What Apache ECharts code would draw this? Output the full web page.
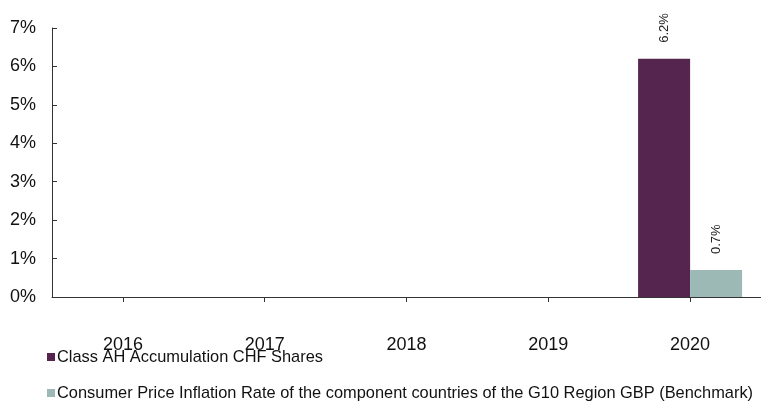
<!DOCTYPE html>
<html><head><meta charset="utf-8">
<script src="https://cdn.jsdelivr.net/npm/echarts@6/dist/echarts.min.js"></script>
<style>html,body{margin:0;padding:0;background:#fff}#c{width:761px;height:402px}</style>
</head><body><div id="c"></div>
<script>
const categories = ['2016','2017','2018','2019','2020'];
const seriesNames = ['Class AH Accumulation CHF Shares','Consumer Price Inflation Rate of the component countries of the G10 Region GBP (Benchmark)'];
const fundValues = [null, null, null, null, 6.2];
const benchmarkValues = [null, null, null, null, 0.7];
const yTicks = [0,1,2,3,4,5,6,7];

const font = "'Liberation Sans', Arial, sans-serif";
const chart = echarts.init(document.getElementById('c'));
const labelOpt = {
  show: true, position: 'top', rotate: 90, align: 'left', verticalAlign: 'middle',
  distance: 16, fontFamily: font, fontSize: 13, color: '#222',
  formatter: p => p.value.toFixed(1) + '%'
};
const legendText = {fontFamily: font, fontSize: 16.4, color: '#111', padding: [0,0,0,-3]};
chart.setOption({
  animation: false,
  textStyle: {fontFamily: font},
  grid: {left: 52, width: 711, top: 28, bottom: 105, containLabel: false},
  legend: [
    {orient: 'horizontal', left: 47, top: 349, padding: 0, itemWidth: 8, itemHeight: 8,
     icon: 'rect', textStyle: legendText, data: [seriesNames[0]]},
    {orient: 'horizontal', left: 47, top: 385, padding: 0, itemWidth: 8, itemHeight: 8,
     icon: 'rect', textStyle: legendText, data: [seriesNames[1]]}
  ],
  xAxis: {
    type: 'category', data: categories, boundaryGap: true,
    axisLine: {show: true, lineStyle: {color: '#333', width: 1}},
    axisTick: {show: true, alignWithLabel: true, length: 5, lineStyle: {color: '#333'}},
    axisLabel: {fontFamily: font, fontSize: 18, color: '#111', margin: 39}
  },
  yAxis: {
    type: 'value', min: yTicks[0], max: yTicks[yTicks.length-1], interval: 1,
    splitLine: {show: false},
    axisLine: {show: true, lineStyle: {color: '#333', width: 1}},
    axisTick: {show: true, inside: true, length: 5, lineStyle: {color: '#333'}},
    axisLabel: {fontFamily: font, fontSize: 18, color: '#111', margin: 16, formatter: v => v + '%'}
  },
  series: [
    {name: seriesNames[0], type: 'bar', data: fundValues, barGap: '0%', barWidth: 52,
     itemStyle: {color: '#55244F'}, label: labelOpt},
    {name: seriesNames[1], type: 'bar', data: benchmarkValues, barGap: '0%', barWidth: 52,
     itemStyle: {color: '#9DB9B5'}, label: labelOpt}
  ]
});
</script></body></html>
